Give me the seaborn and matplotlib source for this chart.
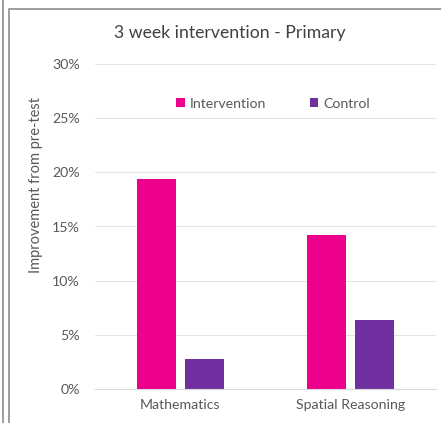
import matplotlib
matplotlib.use("Agg")
import matplotlib.pyplot as plt
import seaborn as sns
import pandas as pd
from matplotlib.lines import Line2D
from matplotlib.ticker import PercentFormatter

categories = ["Mathematics", "Spatial Reasoning"]
groups = ["Intervention", "Control"]
intervention = [0.194, 0.142]
control = [0.028, 0.064]
yticks = [0, 0.05, 0.10, 0.15, 0.20, 0.25, 0.30]

df = pd.DataFrame({
    "subject": categories * 2,
    "group": [groups[0]] * 2 + [groups[1]] * 2,
    "value": intervention + control,
})

sns.set_theme(style="white")
plt.rcParams["font.family"] = ["Lato", "DejaVu Sans"]
text_col = "#595959"

fig = plt.figure(figsize=(4.41, 4.23), dpi=100)
ax = fig.add_axes([95/441, 1-389/423, 341/441, 325/423])

sns.barplot(data=df, x="subject", y="value", hue="group", order=categories,
            hue_order=groups, palette=["#EC008C", "#7030A0"], width=0.563,
            gap=0.1875, linewidth=0, saturation=1, ax=ax, legend=True)

ax.set_xlim(-0.5, 1.5)
ax.set_ylim(0, 0.30)
ax.set_yticks(yticks)
ax.yaxis.set_major_formatter(PercentFormatter(1.0, decimals=0))
ax.grid(axis="y", color="#E3E3E3", linewidth=0.8)
ax.set_axisbelow(True)
for s in ["top", "right", "left"]:
    ax.spines[s].set_visible(False)
ax.spines["bottom"].set_color("#D9D9D9")
ax.spines["bottom"].set_linewidth(0.8)
ax.tick_params(axis="both", length=0, labelsize=10.2, labelcolor=text_col)
ax.tick_params(axis="y", pad=11)
ax.tick_params(axis="x", pad=7)
ax.set_xlabel("")
ax.set_ylabel("Improvement from pre-test", fontsize=10.5, color=text_col)
ax.yaxis.set_label_coords(-0.153, 0.628)

fig.text(230/441, 1-33/423, "3 week intervention - Primary", ha="center",
         va="center", fontsize=12.7, color="#404040")

h, l = ax.get_legend_handles_labels()
ax.legend(h, l, loc="center", bbox_to_anchor=(0.522, 0.877), ncol=2,
          frameon=False, fontsize=10.2, labelcolor=text_col,
          handlelength=0.6, handleheight=0.6, handletextpad=0.35,
          columnspacing=3.1)

# decorative frame lines from the screenshot
fig.add_artist(Line2D([2.5/441, 2.5/441], [0, 1], transform=fig.transFigure,
                      color="#8C8C8C", linewidth=1.2))
fig.add_artist(Line2D([8.5/441, 8.5/441, 1], [0, 1-9/423, 1-9/423],
                      transform=fig.transFigure, color="#8C8C8C", linewidth=1.2))

fig.savefig("out.png", dpi=100)
